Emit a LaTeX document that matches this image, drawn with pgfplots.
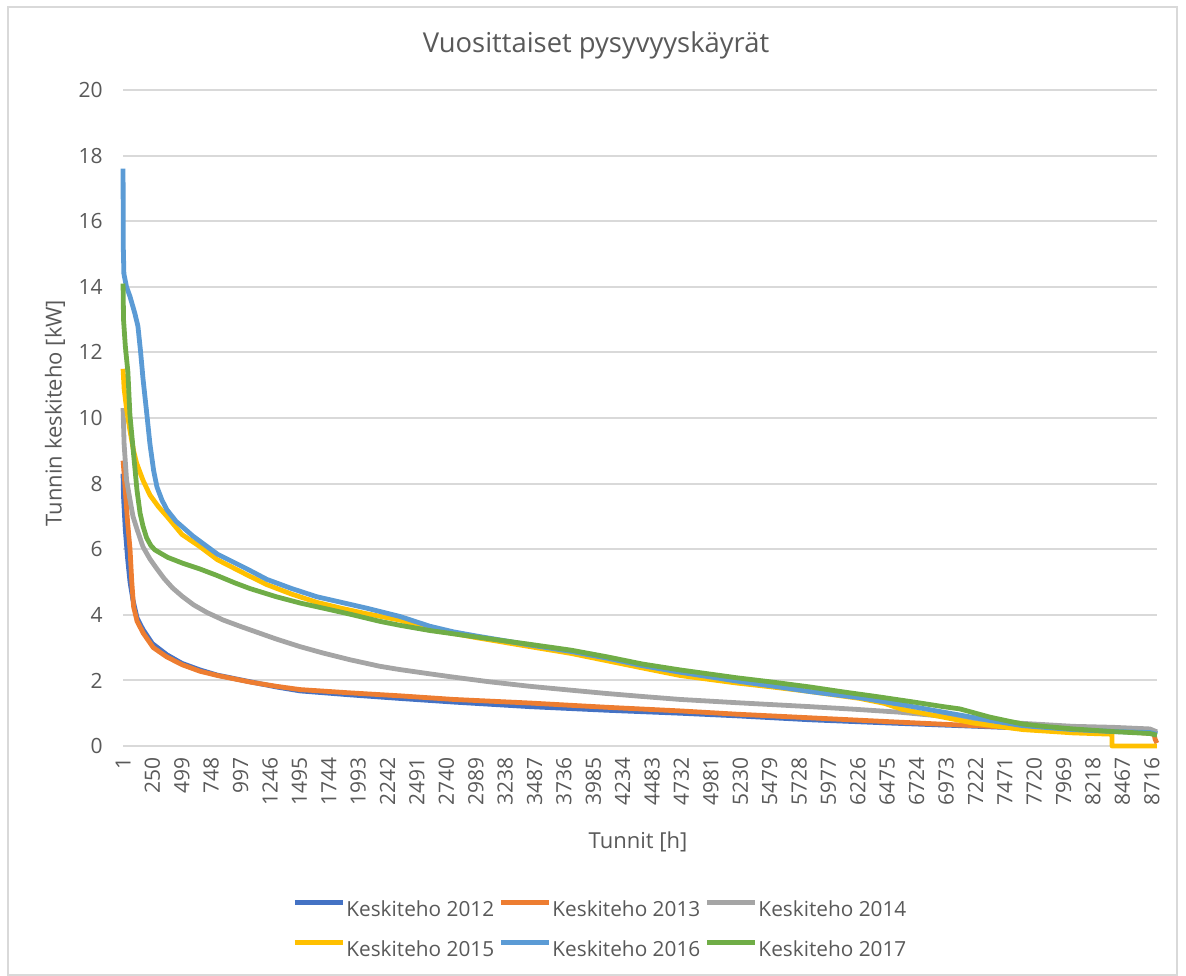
\documentclass[border=0pt]{standalone}
\usepackage{pgfplots}
\pgfplotsset{compat=1.18}
\usepackage{fontspec}
\setmainfont{Open Sans}
\definecolor{txt}{HTML}{595959}
\definecolor{grd}{HTML}{D9D9D9}
\definecolor{c12}{HTML}{4472C4}
\definecolor{c13}{HTML}{ED7D31}
\definecolor{c14}{HTML}{A5A5A5}
\definecolor{c15}{HTML}{FFC000}
\definecolor{c16}{HTML}{5B9BD5}
\definecolor{c17}{HTML}{70AD47}
\begin{document}
\begin{tikzpicture}
\useasboundingbox (-61.5bp,-115bp) rectangle (531.5bp,373bp);
\draw[grd, line width=1bp] (-57.5bp,-114.5bp) rectangle (527bp,369.5bp);
\begin{axis}[
  scale only axis, width=517bp, height=328bp,
  xmin=0.5, xmax=8760.5, ymin=0, ymax=20,
  ytick={0,2,...,20},
  xtick={1,250,499,748,997,1246,1495,1744,1993,2242,2491,2740,2989,3238,3487,3736,3985,4234,4483,4732,4981,5230,5479,5728,5977,6226,6475,6724,6973,7222,7471,7720,7969,8218,8467,8716},
  axis line style={draw=none},
  major tick length=0pt,
  ymajorgrids, grid style={grd, line width=1bp},
  tick label style={font=\fontsize{10.5bp}{12bp}\selectfont, text=txt},
  /pgf/number format/assume math mode=true,
  /pgf/number format/1000 sep={},
  yticklabel style={anchor=east, inner sep=0pt, xshift=-10bp},
  xticklabel style={rotate=90, anchor=east, inner xsep=5.5bp, inner ysep=0pt},
  clip=false,
  legend columns=3,
  legend style={
    draw=none, fill=none, inner sep=0pt, outer sep=0pt,
    at={(axis description cs:0.1640,-0.2348)}, anchor=north west,
    font=\fontsize{10.4bp}{12bp}\selectfont, text=txt,
    /tikz/every odd column/.style={column sep=0.5bp},
    /tikz/every even column/.style={column sep=2.2bp},
    row sep=10.3bp,
    nodes={inner sep=0pt, outer sep=0pt},
  },
  legend image code/.code={\draw[#1, line width=2.4bp] (0bp,3.7bp) -- (24bp,3.7bp);},
  every axis plot/.append style={line width=2.4bp, line join=round},
]
\addplot[c12] coordinates {(1,8.3) (5,7.6) (20,6.6) (40,5.7) (60,5.0) (85,4.45) (120,3.9) (170,3.55) (250,3.12) (373,2.78) (500,2.52) (652,2.32) (800,2.16) (1076,1.96) (1300,1.8) (1500,1.68) (1923,1.56) (2346,1.45) (2800,1.34) (3448,1.2) (4100,1.09) (4719,1.0) (5200,0.92) (5820,0.8) (6500,0.7) (7091,0.62) (7600,0.55) (8100,0.5) (8500,0.46) (8720,0.43) (8760,0.38)};
\addlegendentry{Keskiteho 2012}
\addplot[c13] coordinates {(1,8.7) (10,8.3) (20,7.8) (40,6.8) (60,6.0) (75,5.0) (90,4.25) (120,3.8) (172,3.44) (257,3.0) (370,2.72) (500,2.48) (652,2.28) (800,2.15) (1076,1.95) (1300,1.82) (1500,1.72) (1923,1.62) (2346,1.53) (2800,1.42) (3448,1.31) (4100,1.18) (4719,1.07) (5200,0.97) (5820,0.86) (6500,0.74) (7091,0.64) (7600,0.56) (8100,0.5) (8500,0.45) (8735,0.37) (8745,0.2) (8760,0.09)};
\addlegendentry{Keskiteho 2013}
\addplot[c14] coordinates {(1,10.3) (10,9.2) (31,8.1) (60,7.5) (85,7.0) (120,6.6) (170,6.07) (229,5.7) (288,5.4) (350,5.1) (420,4.82) (500,4.57) (600,4.3) (712,4.07) (850,3.84) (1000,3.64) (1150,3.45) (1300,3.26) (1500,3.03) (1700,2.83) (1923,2.63) (2177,2.43) (2346,2.33) (2600,2.2) (2800,2.1) (3100,1.96) (3448,1.82) (3800,1.7) (4100,1.6) (4400,1.51) (4719,1.42) (5200,1.32) (5820,1.2) (6200,1.12) (6583,1.03) (6850,0.94) (7091,0.85) (7350,0.76) (7625,0.69) (8049,0.6) (8387,0.57) (8700,0.52) (8760,0.43)};
\addlegendentry{Keskiteho 2014}
\addplot[c15] coordinates {(1,11.5) (10,10.9) (30,10.3) (59,9.63) (90,9.0) (116,8.62) (170,8.1) (229,7.65) (300,7.3) (373,7.0) (500,6.45) (652,6.08) (800,5.68) (1050,5.22) (1219,4.92) (1430,4.63) (1643,4.38) (1850,4.2) (2067,4.03) (2346,3.84) (2601,3.57) (2800,3.43) (3000,3.3) (3448,3.03) (3800,2.82) (4100,2.6) (4400,2.38) (4719,2.15) (5200,1.92) (5500,1.8) (5820,1.66) (6244,1.45) (6450,1.3) (6600,1.12) (6922,0.9) (7203,0.7) (7625,0.5) (8049,0.4) (8378,0.36) (8380,0) (8760,0)};
\addlegendentry{Keskiteho 2015}
\addplot[c16] coordinates {(1,17.6) (3,15.2) (8,14.4) (30,14.0) (60,13.7) (100,13.2) (127,12.8) (150,12.0) (170,11.2) (200,10.2) (229,9.2) (260,8.4) (288,7.9) (330,7.5) (373,7.2) (450,6.85) (593,6.4) (800,5.85) (1050,5.4) (1219,5.08) (1430,4.8) (1643,4.55) (1850,4.38) (2067,4.2) (2346,3.95) (2601,3.65) (2800,3.48) (3000,3.35) (3448,3.08) (3800,2.88) (4100,2.68) (4400,2.45) (4719,2.25) (5200,1.98) (5500,1.83) (5820,1.66) (6244,1.47) (6600,1.26) (6922,1.05) (7345,0.78) (7625,0.62) (8049,0.5) (8400,0.44) (8700,0.41) (8760,0.35)};
\addlegendentry{Keskiteho 2016}
\addplot[c17] coordinates {(1,14.1) (5,13.0) (20,12.2) (42,11.4) (59,10.1) (85,9.1) (119,7.8) (145,7.1) (170,6.7) (200,6.35) (235,6.12) (270,5.98) (380,5.75) (508,5.57) (650,5.4) (796,5.2) (950,4.97) (1076,4.8) (1300,4.55) (1500,4.36) (1700,4.2) (1923,4.02) (2177,3.8) (2346,3.68) (2601,3.52) (2800,3.42) (3000,3.32) (3448,3.1) (3800,2.92) (4100,2.72) (4400,2.5) (4719,2.32) (5200,2.08) (5500,1.95) (5820,1.8) (6100,1.65) (6400,1.5) (6700,1.34) (6950,1.2) (7091,1.13) (7345,0.88) (7500,0.76) (7625,0.67) (7800,0.6) (8049,0.52) (8387,0.44) (8700,0.38) (8760,0.33)};
\addlegendentry{Keskiteho 2017}
\end{axis}
\node[text=txt, font=\fontsize{13.7bp}{16bp}\selectfont] at (236.5bp,350.5bp) {Vuosittaiset pysyvyyskäyrät};
\node[text=txt, rotate=90, font=\fontsize{11bp}{13bp}\selectfont] at (-34bp,166.5bp) {Tunnin keskiteho [kW]};
\node[text=txt, font=\fontsize{11bp}{13bp}\selectfont] at (257.5bp,-48bp) {Tunnit [h]};
\end{tikzpicture}
\end{document}
